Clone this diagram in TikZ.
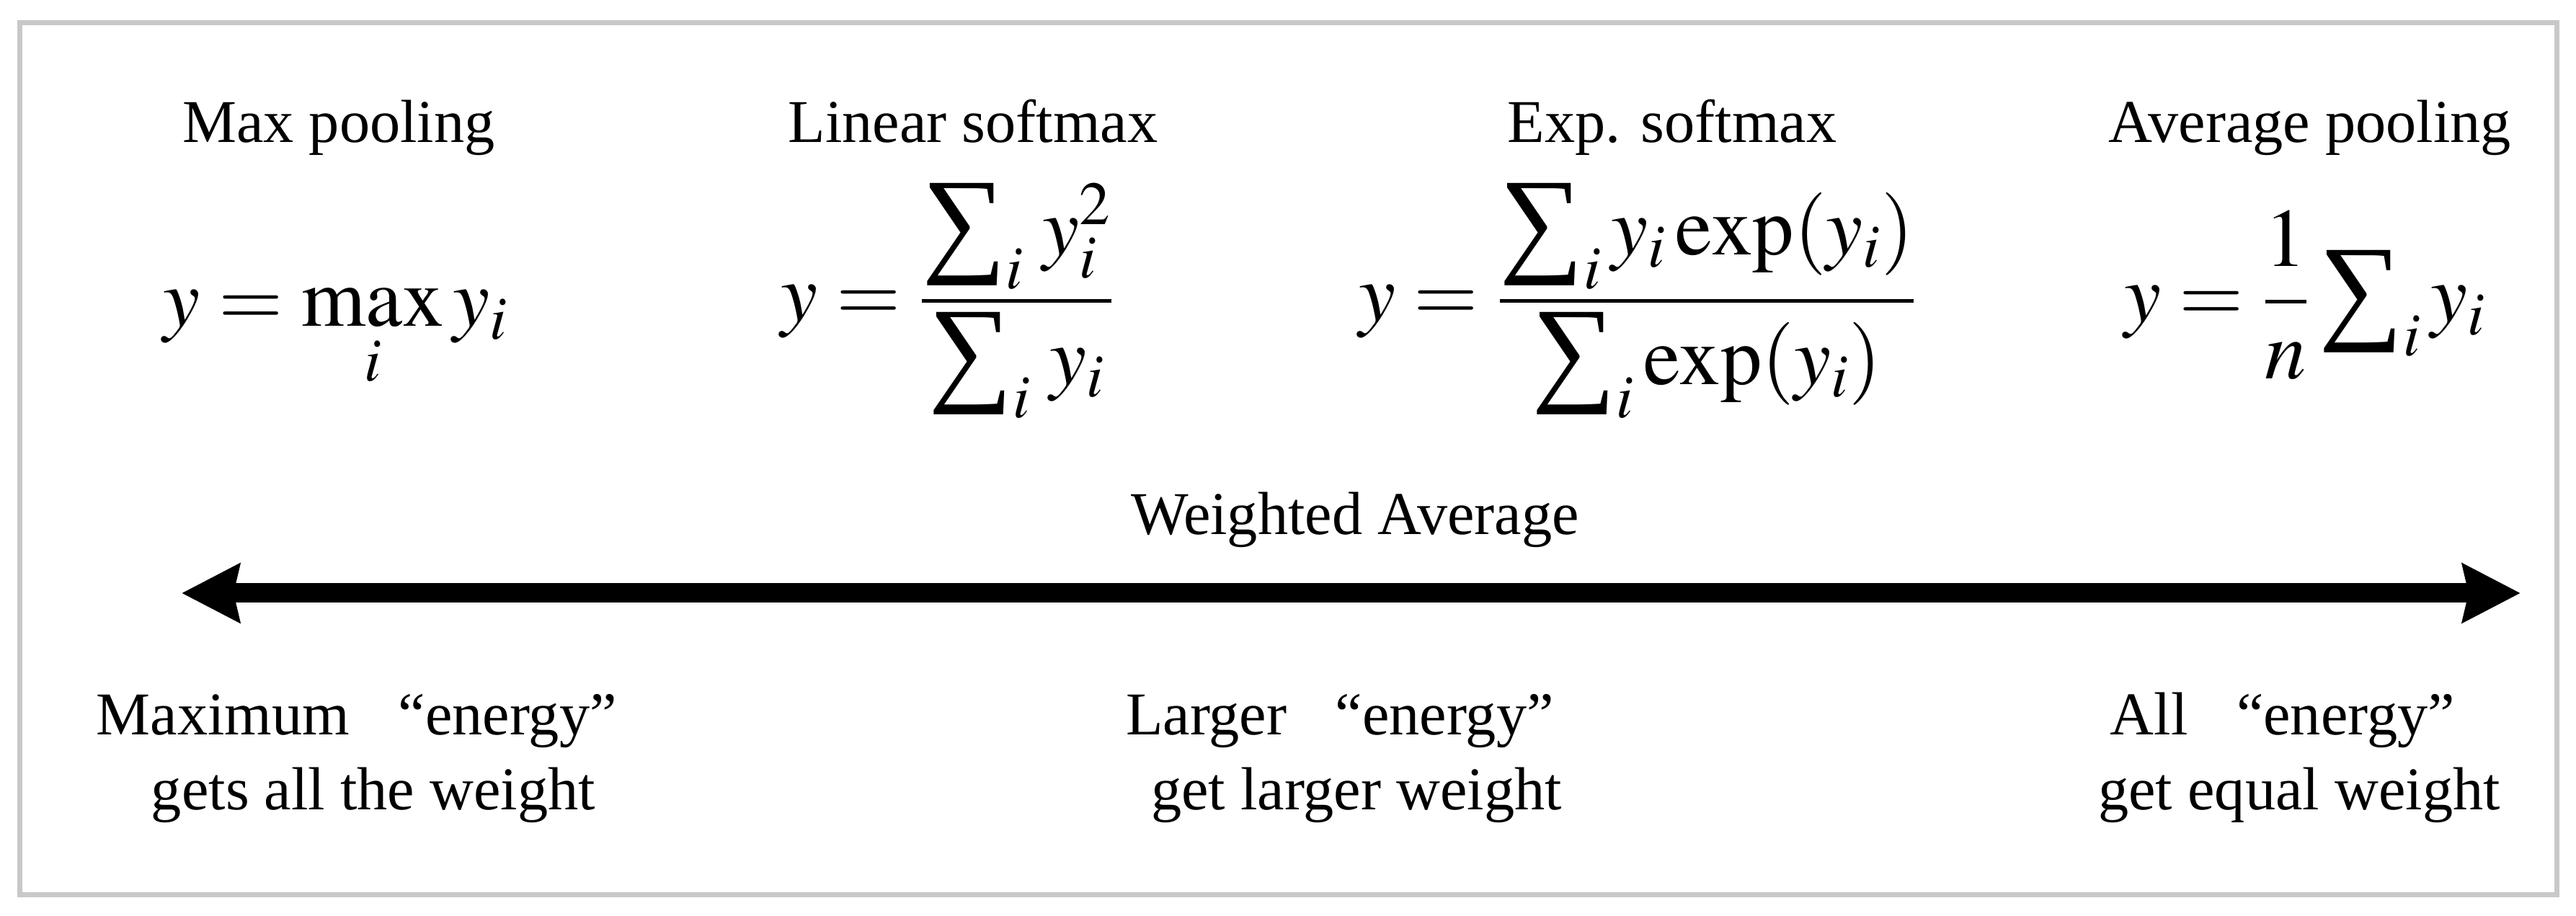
\documentclass[tikz,border=0pt]{standalone}
\usepackage{amsmath}
\usepackage{mathptmx}
\usepackage{graphicx}
\usepackage{fontspec}
\setmainfont{Liberation Serif}
\usetikzlibrary{positioning, arrows.meta}
\definecolor{frameGray}{RGB}{200,200,200}
\newcommand{\bigSig}{\mathop{\vcenter{\hbox{\resizebox*{!}{1.42cm}{\rmfamily ∑}}}}\nolimits}

\begin{document}
\begin{tikzpicture}[
		poolTitle/.style={anchor=base, font=\fontsize{24}{29.6}\selectfont},
		poolEq/.style={anchor=base, font=\fontsize{32.7}{40}\selectfont},
		energyNote/.style={anchor=base, align=center, font=\fontsize{24}{29.6}\selectfont},
		bigArrow/.style={{Stealth[length=0.8cm, width=0.8cm, inset=0.08cm]}-{Stealth[length=0.8cm, width=0.8cm, inset=0.08cm]}, line width=0.27cm}]
		
		\useasboundingbox (0,0) rectangle (35.74,12.71);
		\draw[frameGray, line width=0.07cm] (0.27,0.29) rectangle (35.47,12.39);
		
		%Titoli e formule dei quattro metodi
		\node (maxTitle) at (4.70,10.73) [poolTitle] {Max pooling};
		\node (linTitle) at (13.50,10.73) [poolTitle] {Linear softmax};
		\node (expTitle) at (23.20,10.73) [poolTitle] {Exp. softmax};
		\node (avgTitle) at (32.05,10.73) [poolTitle] {Average pooling};
		
		\node (maxEq) at (4.66,8.18) [poolEq] {$y=\max\limits_{i} y_i$};
		\node (linEq) at (13.15,8.25) [poolEq] {$y=\dfrac{\bigSig_{i}\, y_i^{2}}{\bigSig_{i}\, y_i}$};
		\node (expEq) at (22.72,8.25) [poolEq] {$y=\dfrac{\bigSig_{i} y_i \exp(y_i)}{\bigSig_{i}\exp(y_i)}$};
		\node (avgEq) at (31.98,8.24) [poolEq] {$\displaystyle y=\frac{1}{n}\bigSig_{i} y_i$};
		
		%Freccia della media pesata
		\coordinate (maxEnd) at (2.52,4.48);
		\coordinate (avgEnd) at (34.97,4.48);
		\draw[bigArrow] (maxEnd) -- (avgEnd);
		\node (weighted) at (18.80,5.29) [poolTitle] {Weighted Average};
		
		\node (maxNote) at (5.18,1.47) [energyNote] {Maximum \hspace*{0.55em}“energy”\hspace*{0.55em}\\gets all the weight};
		\node (linNote) at (18.82,1.47) [energyNote] {Larger \hspace*{0.55em}“energy”\hspace*{0.55em}\\get larger weight};
		\node (avgNote) at (31.90,1.47) [energyNote] {All \hspace*{0.55em}“energy”\hspace*{0.55em}\\get equal weight};
		
		\end{tikzpicture}
\end{document}
